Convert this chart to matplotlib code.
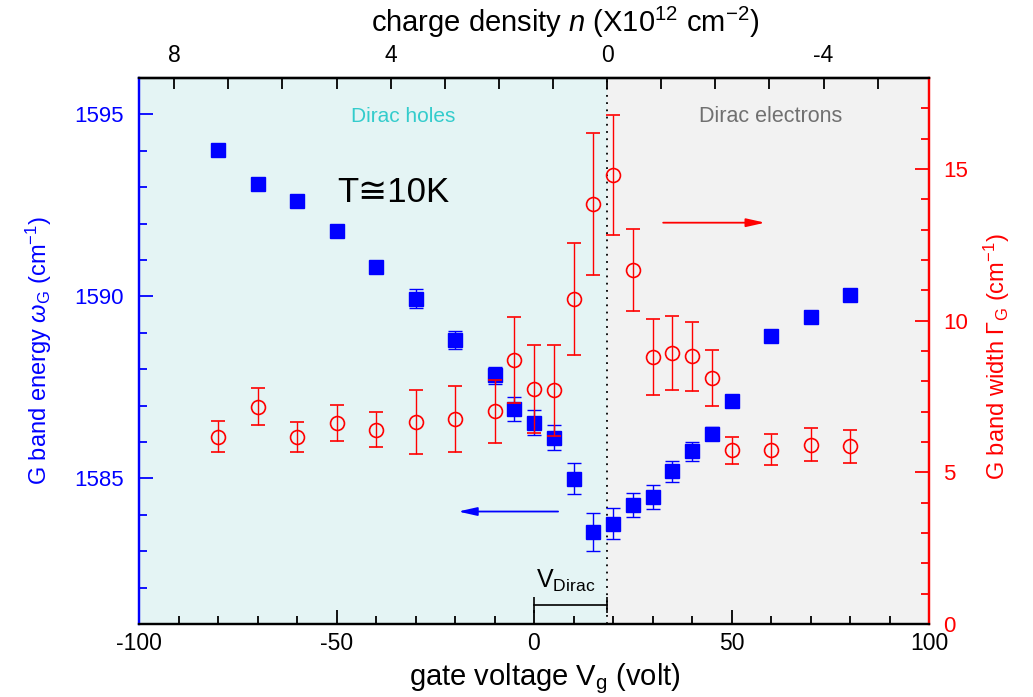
import matplotlib
matplotlib.use("Agg")
import matplotlib.pyplot as plt
from matplotlib.ticker import MultipleLocator, FixedLocator

plt.rcParams['font.family'] = ['Liberation Sans', 'DejaVu Sans']
plt.rcParams['mathtext.fontset'] = 'custom'
plt.rcParams['mathtext.rm'] = 'Liberation Sans'
plt.rcParams['mathtext.it'] = 'Liberation Sans:italic'
plt.rcParams['mathtext.bf'] = 'Liberation Sans:bold'
plt.rcParams['axes.unicode_minus'] = False

# 数据
v_dirac = 18.5
volts_per_n = 13.7

gate_w = [-80, -70, -60, -50, -40, -30, -20, -10, -5, 0, 5, 10, 15, 20, 25, 30, 35, 40, 45, 50, 60, 70, 80]
omega_g = [1594.03, 1593.10, 1592.62, 1591.81, 1590.82, 1589.94, 1588.80, 1587.83, 1586.91, 1586.53, 1586.12,
           1584.99, 1583.52, 1583.76, 1584.26, 1584.49, 1585.19, 1585.74, 1586.23, 1587.12, 1588.91, 1589.44, 1590.05]
omega_err = [0, 0, 0, 0, 0, 0.25, 0.24, 0.24, 0.33, 0.34, 0.35, 0.43, 0.52, 0.43, 0.33, 0.33, 0.29, 0.25, 0.18,
             0, 0, 0, 0]

gate_g = [-80, -70, -60, -50, -40, -30, -20, -10, -5, 0, 5, 10, 15, 20, 25, 30, 35, 40, 45, 50, 60, 70, 80]
gamma_g = [6.18, 7.17, 6.16, 6.62, 6.40, 6.66, 6.76, 7.01, 8.69, 7.75, 7.70, 10.72, 13.86, 14.81, 11.66,
           8.80, 8.93, 8.82, 8.11, 5.72, 5.75, 5.91, 5.86]
gamma_err = [0.50, 0.62, 0.50, 0.60, 0.58, 1.07, 1.10, 1.05, 1.42, 1.45, 1.49, 1.84, 2.34, 1.98, 1.35,
             1.24, 1.21, 1.13, 0.91, 0.43, 0.50, 0.54, 0.54]

blue = '#0000ff'
red = '#ff0000'

fig = plt.figure(figsize=(10.33, 6.97), dpi=100)
ax = fig.add_axes([139 / 1033, 1 - 624 / 697, 790 / 1033, 546 / 697])
ax2 = ax.twinx()

# 背景区域
ax.axvspan(-100, v_dirac, color='#e4f4f4', lw=0, zorder=0)
ax.axvspan(v_dirac, 100, color='#f2f2f2', lw=0, zorder=0)
ax.axvline(v_dirac, color='black', ls=(0, (1, 3)), lw=1.3, zorder=1)

# G峰能量
ax.errorbar(gate_w, omega_g, yerr=omega_err, fmt='s', color=blue, ms=9.5, mec=blue,
            elinewidth=1, capsize=5, capthick=1, zorder=3)
ax.set_xlim(-100, 100)
ax.set_ylim(1581, 1596)

# G峰宽度
ax2.errorbar(gate_g, gamma_g, yerr=gamma_err, fmt='o', color=red, mfc='none', mec=red, ms=10, mew=1.2,
             elinewidth=1, capsize=5, capthick=1, zorder=3)
ax2.set_ylim(0, 18)

# 刻度
ax.xaxis.set_major_locator(MultipleLocator(50))
ax.xaxis.set_minor_locator(MultipleLocator(10))
ax.yaxis.set_major_locator(MultipleLocator(5))
ax.yaxis.set_minor_locator(MultipleLocator(1))
ax2.yaxis.set_major_locator(MultipleLocator(5))
ax2.yaxis.set_minor_locator(MultipleLocator(1))

ax.tick_params(axis='x', which='both', direction='in', top=False, labelsize=16.5, pad=6, width=1.3)
ax.tick_params(axis='x', which='major', length=10)
ax.tick_params(axis='x', which='minor', length=6)
ax.tick_params(axis='y', which='both', direction='in', colors=blue, labelsize=16, pad=11, width=1.3)
ax.tick_params(axis='y', which='major', length=10)
ax.tick_params(axis='y', which='minor', length=6)
ax2.tick_params(axis='y', which='both', direction='in', colors=red, labelsize=16, pad=10, width=1.3)
ax2.tick_params(axis='y', which='major', length=10)
ax2.tick_params(axis='y', which='minor', length=6)

for a in (ax, ax2):
    a.spines['left'].set_color(blue)
    a.spines['right'].set_color(red)
    a.spines['top'].set_color('black')
    a.spines['bottom'].set_color('black')
    for s in a.spines.values():
        s.set_linewidth(1.6)

# 上方电荷密度轴
top = ax.secondary_xaxis('top', functions=(lambda v: (v_dirac - v) / volts_per_n,
                                           lambda n: v_dirac - n * volts_per_n))
top.xaxis.set_major_locator(FixedLocator([8, 4, 0, -4]))
top.xaxis.set_minor_locator(FixedLocator([7, 6, 5, 3, 2, 1, -1, -2, -3, -5]))
top.tick_params(which='both', direction='in', labelsize=16.5, pad=8, width=1.3)
top.tick_params(which='major', length=8)
top.tick_params(which='minor', length=8)
top.spines['top'].set_linewidth(1.6)
top.set_xlabel(r'charge density $n$ (X10$^{12}$ cm$^{-2}$)', fontsize=21)
top.xaxis.set_label_coords(0.539, 1.084, transform=ax.transAxes)

ax.set_xlabel(r'gate voltage V$_{\mathrm{g}}$ (volt)', fontsize=21)
ax.xaxis.set_label_coords(0.514, -0.068)
ax.set_ylabel(r'G band energy $\omega_{\mathrm{G}}$ (cm$^{-1}$)', fontsize=17, color=blue)
ax2.set_ylabel(r'G band width $\Gamma_{\mathrm{G}}$ (cm$^{-1}$)', fontsize=17, color=red)
ax.yaxis.set_label_coords(-0.108, 0.5)
ax2.yaxis.set_label_coords(1.067, 0.49)

# 标注
ax.text(0.334, 0.929, 'Dirac holes', transform=ax.transAxes, color='#33cccc', fontsize=15,
        ha='center', va='center')
ax.text(0.799, 0.929, 'Dirac electrons', transform=ax.transAxes, color='#707070', fontsize=15.5,
        ha='center', va='center')
ax.text(0.322, 0.79, 'T\u224510K', transform=ax.transAxes, color='black', fontsize=25,
        ha='center', va='center', family=['Liberation Sans', 'DejaVu Sans'])

ax.annotate('', xy=(-19.2, 1584.09), xytext=(6.1, 1584.09),
            arrowprops=dict(arrowstyle='-|>,head_length=0.8,head_width=0.18', color=blue, lw=1.3,
                            mutation_scale=14, shrinkA=0, shrinkB=0))
ax2.annotate('', xy=(58.5, 13.23), xytext=(32.7, 13.23),
             arrowprops=dict(arrowstyle='-|>,head_length=0.8,head_width=0.18', color=red, lw=1.3,
                             mutation_scale=14, shrinkA=0, shrinkB=0))

# V_Dirac 标尺
ax.text(0.5, 1582.0, r'V$_{\mathrm{Dirac}}$', fontsize=18, ha='left', va='baseline', zorder=4)
ax.plot([0, v_dirac], [1581.51, 1581.51], color='black', lw=1.2, zorder=4)
ax.vlines([0, v_dirac], 1581.29, 1581.73, color='black', lw=1.2, zorder=4)

fig.savefig('out.png', dpi=100)
